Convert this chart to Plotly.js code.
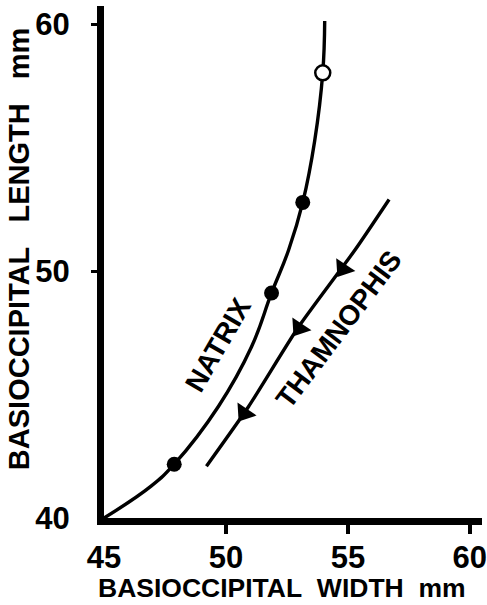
<!DOCTYPE html>
<html>
<head>
<meta charset="utf-8">
<script src="https://cdn.plot.ly/plotly-3.0.1.min.js"></script>
<style>
  html, body { margin: 0; padding: 0; background: #fff; }
  #chart { width: 487px; height: 605px; }
</style>
</head>
<body>
<div id="chart"></div>
<script>
// ---- data ----
const xTickVals = [45, 50, 55, 60];
const xTickText = ["45", "50", "55", "60"];
const yTickVals = [40, 50, 60];
const yTickText = ["40", "50", "60"];
const xTitle = "BASIOCCIPITAL&nbsp;&nbsp;WIDTH&nbsp;&nbsp;mm";
const yTitle = "BASIOCCIPITAL&nbsp;&nbsp;&nbsp;LENGTH&nbsp;&nbsp;&nbsp;mm";

// Natrix curve
const natrixCurveX = [45.0, 46.93, 47.88, 49.69, 51.05, 51.87, 52.57, 53.15, 53.64, 53.97, 54.05];
const natrixCurveY = [40.0, 41.29, 42.18, 44.52, 46.94, 49.12, 50.86, 52.79, 55.29, 58.04, 60.14];
// Natrix observed points
const natrixFilledX = [47.88, 51.87, 53.15];
const natrixFilledY = [42.18, 49.12, 52.79];
const natrixOpenX = [53.97];
const natrixOpenY = [58.04];

// Thamnophis line
const thamnoX = [56.69, 55.29, 52.98, 50.93, 49.20];
const thamnoY = [52.91, 50.86, 47.75, 44.52, 42.10];
// Thamnophis direction arrows
const arrowX = [54.80, 53.00, 50.75];
const arrowY = [50.10, 47.70, 44.25];

const FONT = "Liberation Sans, Arial, Helvetica, sans-serif";
const INK = "#000";

const traces = [
  { x: natrixCurveX, y: natrixCurveY, mode: "lines", type: "scatter",
    line: { color: INK, width: 3.4, shape: "spline", smoothing: 1.2 }, hoverinfo: "skip" },
  { x: thamnoX, y: thamnoY, mode: "lines", type: "scatter",
    line: { color: INK, width: 3.4, shape: "spline", smoothing: 0.6 }, hoverinfo: "skip" },
  { x: arrowX, y: arrowY, mode: "markers", type: "scatter",
    marker: { symbol: "triangle-up", size: 20, color: INK, angle: 214, line: { width: 0 } } },
  { x: natrixFilledX, y: natrixFilledY, mode: "markers", type: "scatter",
    marker: { symbol: "circle", size: 15, color: INK, line: { width: 0 } } },
  { x: natrixOpenX, y: natrixOpenY, mode: "markers", type: "scatter",
    marker: { symbol: "circle", size: 15, color: "#fff", line: { width: 2.5, color: INK } } },
  // dummy trace so the overlay axes (visible tick marks) are drawn
  { x: [50], y: [50], xaxis: "x2", yaxis: "y2", mode: "markers", type: "scatter",
    marker: { size: 1, color: "rgba(0,0,0,0)" }, hoverinfo: "skip" }
];

const xRange = [45, 60.5];
const yRange = [40, 60.75];

const tickFont = { family: FONT, size: 31, color: INK, weight: "bold" };

const layout = {
  width: 487, height: 605,
  margin: { l: 104, r: 5, t: 6, b: 87 },
  paper_bgcolor: "#fff", plot_bgcolor: "#fff",
  showlegend: false,
  font: { family: FONT, color: INK },
  xaxis: {
    range: xRange, showgrid: false, zeroline: false,
    showline: true, linecolor: INK, linewidth: 7,
    tickmode: "array", tickvals: xTickVals, ticktext: xTickText,
    ticks: "outside", ticklen: 6, tickwidth: 3, tickcolor: "rgba(0,0,0,0)",
    ticklabeloverflow: "allow",
    tickfont: tickFont
  },
  yaxis: {
    range: yRange, showgrid: false, zeroline: false,
    showline: true, linecolor: INK, linewidth: 7,
    tickmode: "array", tickvals: yTickVals, ticktext: yTickText,
    ticks: "outside", ticklen: 21, tickwidth: 3, tickcolor: "rgba(0,0,0,0)",
    ticklabeloverflow: "allow",
    tickfont: tickFont
  },
  xaxis2: {
    overlaying: "x", anchor: "y", range: xRange, showgrid: false, zeroline: false,
    showline: false, tickmode: "array", tickvals: xTickVals.slice(1),
    showticklabels: false, ticks: "outside", ticklen: 15, tickwidth: 3.5, tickcolor: INK
  },
  yaxis2: {
    overlaying: "y", anchor: "x", range: yRange, showgrid: false, zeroline: false,
    showline: false, tickmode: "array", tickvals: yTickVals.slice(1),
    showticklabels: false, ticks: "outside", ticklen: 12, tickwidth: 3.5, tickcolor: INK
  },
  annotations: [
    { x: 0.47, y: -0.137, xref: "paper", yref: "paper", xanchor: "center", yanchor: "middle",
      text: xTitle, showarrow: false, font: { family: FONT, size: 26.5, color: INK, weight: "bold" } },
    { x: -0.225, y: 0.527, xref: "paper", yref: "paper", xanchor: "center", yanchor: "middle",
      text: yTitle, showarrow: false, textangle: -90,
      font: { family: FONT, size: 29, color: INK, weight: "bold" } },
    { x: 49.69, y: 47.02, xref: "x", yref: "y", text: "NATRIX", showarrow: false,
      textangle: -60, font: { family: FONT, size: 28, color: INK, weight: "bold" } },
    { x: 54.63, y: 47.63, xref: "x", yref: "y", text: "THAMNOPHIS", showarrow: false,
      textangle: -53, font: { family: FONT, size: 28, color: INK, weight: "bold" } }
  ]
};

Plotly.newPlot("chart", traces, layout, { staticPlot: true, displayModeBar: false });
</script>
</body>
</html>
